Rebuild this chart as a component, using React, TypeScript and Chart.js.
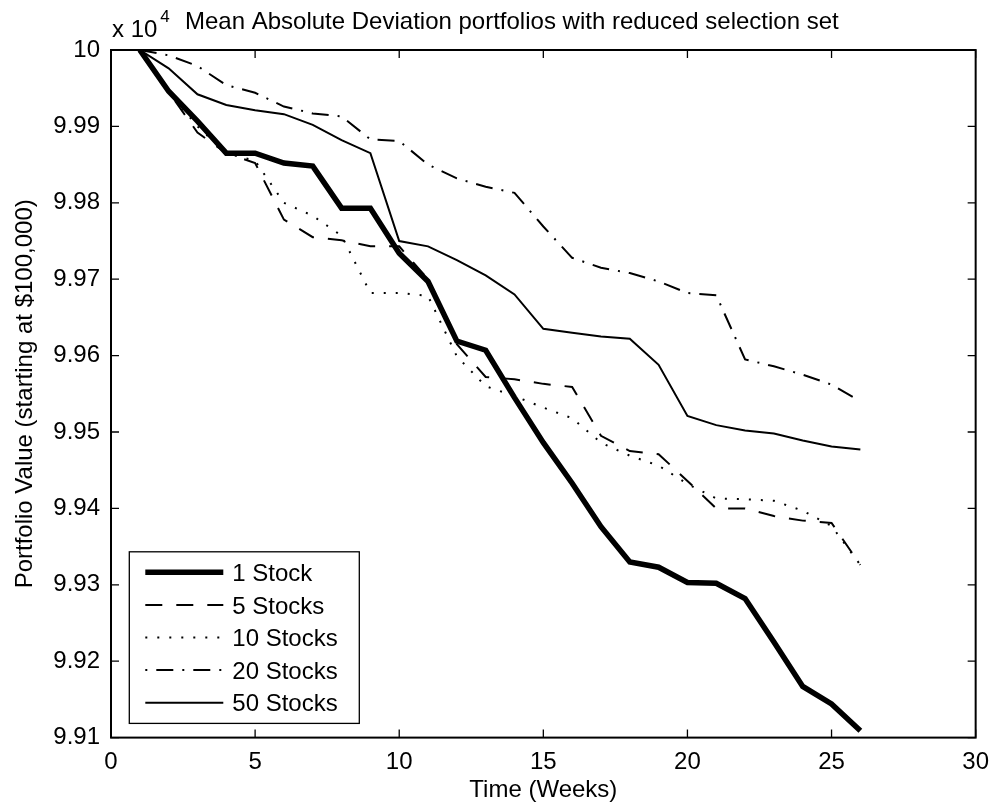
import React, { useEffect, useRef } from "react";
import { Chart, registerables } from "chart.js";

Chart.register(...registerables);

// weeks since start
const weeks = [1, 2, 3, 4, 5, 6, 7, 8, 9, 10, 11, 12, 13, 14, 15, 16, 17, 18, 19, 20, 21, 22, 23, 24, 25, 26];

// portfolio values in dollars
const oneStock = [100000, 99946, 99907, 99865, 99865, 99852, 99848, 99793, 99793, 99734, 99697, 99619, 99607, 99545, 99486, 99433, 99376, 99330, 99323, 99303, 99302, 99282, 99225, 99167, 99144, 99109];
const fiveStocks = [100000, 99945, 99892, 99865, 99852, 99778, 99755, 99751, 99743, 99743, 99700, 99615, 99572, 99569, 99563, 99559, 99495, 99475, 99471, 99436, 99400, 99400, 99390, 99384, 99381, 99326];
const tenStocks = [100000, 99945, 99900, 99865, 99855, 99800, 99783, 99757, 99682, 99682, 99678, 99599, 99560, 99547, 99532, 99518, 99486, 99469, 99456, 99432, 99413, 99412, 99410, 99397, 99377, 99326];
const twentyStocks = [100000, 99993, 99979, 99954, 99944, 99926, 99917, 99913, 99883, 99881, 99850, 99832, 99821, 99813, 99769, 99728, 99715, 99708, 99697, 99682, 99679, 99595, 99586, 99575, 99562, 99540];
const fiftyStocks = [100000, 99976, 99942, 99928, 99921, 99916, 99902, 99882, 99865, 99750, 99743, 99725, 99705, 99680, 99635, 99630, 99625, 99622, 99588, 99521, 99509, 99502, 99498, 99489, 99481, 99477];

const seriesLabels = ["1 Stock", "5 Stocks", "10 Stocks", "20 Stocks", "50 Stocks"];

const xTickValues = [0, 5, 10, 15, 20, 25, 30];
const yTickValues = [99100, 99200, 99300, 99400, 99500, 99600, 99700, 99800, 99900, 100000];
const yTickLabels = ["9.91", "9.92", "9.93", "9.94", "9.95", "9.96", "9.97", "9.98", "9.99", "10"];

const chartTitle = "Mean Absolute Deviation portfolios with reduced selection set";
const exponentBase = "x 10";
const exponent = "4";
const xTitle = "Time (Weeks)";
const yTitle = "Portfolio Value (starting at $100,000)";

const FONT = '"Liberation Sans", Arial, Helvetica, sans-serif';

// MATLAB-like box with inward ticks on all four sides
const framePlugin = {
  id: "frame",
  afterDatasetsDraw: (chart: any) => {
    const { ctx, chartArea: ca, scales } = chart;
    ctx.save();
    ctx.strokeStyle = "#000";
    ctx.lineWidth = 1.3;
    const tl = 8;
    xTickValues.forEach((v) => {
      const x = scales.x.getPixelForValue(v);
      ctx.beginPath();
      ctx.moveTo(x, ca.bottom);
      ctx.lineTo(x, ca.bottom - tl);
      ctx.moveTo(x, ca.top);
      ctx.lineTo(x, ca.top + tl);
      ctx.stroke();
    });
    yTickValues.forEach((v) => {
      const y = scales.y.getPixelForValue(v);
      ctx.beginPath();
      ctx.moveTo(ca.left, y);
      ctx.lineTo(ca.left + tl, y);
      ctx.moveTo(ca.right, y);
      ctx.lineTo(ca.right - tl, y);
      ctx.stroke();
    });
    ctx.lineWidth = 2;
    ctx.strokeRect(ca.left, ca.top, ca.right - ca.left, ca.bottom - ca.top);
    ctx.restore();
  },
};

const titlePlugin = {
  id: "matlabTitle",
  afterDraw: (chart: any) => {
    const { ctx, chartArea: ca } = chart;
    ctx.save();
    ctx.fillStyle = "#000";
    ctx.textBaseline = "alphabetic";
    ctx.textAlign = "left";
    ctx.font = `24px ${FONT}`;
    ctx.fillText(exponentBase, ca.left + 1, 37);
    const w = ctx.measureText(exponentBase).width;
    ctx.font = `17px ${FONT}`;
    ctx.fillText(exponent, ca.left + 1 + w + 3, 22);
    ctx.font = `24px ${FONT}`;
    ctx.fillText(chartTitle, 185, 29);
    ctx.restore();
  },
};

const legendPlugin = {
  id: "boxLegend",
  afterDraw: (chart: any) => {
    const { ctx, chartArea: ca } = chart;
    const sets = chart.data.datasets;
    const w = 230;
    const h = 171.6;
    const left = ca.left + 18.3;
    const top = ca.bottom - 14.2 - h;
    ctx.save();
    ctx.fillStyle = "#fff";
    ctx.fillRect(left, top, w, h);
    ctx.strokeStyle = "#000";
    ctx.lineWidth = 1.3;
    ctx.setLineDash([]);
    ctx.strokeRect(left, top, w, h);
    ctx.font = `24px ${FONT}`;
    ctx.textAlign = "left";
    ctx.textBaseline = "alphabetic";
    sets.forEach((ds: any, i: number) => {
      const cy = top + 20.5 + i * 32.6;
      ctx.beginPath();
      ctx.lineWidth = ds.borderWidth;
      ctx.lineCap = "butt";
      ctx.setLineDash(ds.borderDash || []);
      ctx.lineDashOffset = ds.legendDashOffset || 0;
      ctx.moveTo(left + 16, cy);
      ctx.lineTo(left + 94, cy);
      ctx.stroke();
      ctx.setLineDash([]);
      ctx.fillStyle = "#000";
      ctx.fillText(ds.label, left + 103, cy + 8.6);
    });
    ctx.restore();
  },
};

const toPoints = (values: number[]) => values.map((v, i) => ({ x: weeks[i], y: v }));

const App: React.FC = () => {
  const canvasRef = useRef<HTMLCanvasElement | null>(null);
  const chartRef = useRef<Chart | null>(null);

  useEffect(() => {
    document.body.style.margin = "0";
    if (chartRef.current) chartRef.current.destroy();
    const ctx = canvasRef.current?.getContext("2d");
    if (!ctx) return;

    const base = {
      borderColor: "#000",
      backgroundColor: "#000",
      pointRadius: 0,
      fill: false,
      tension: 0,
      borderCapStyle: "butt",
    };

    chartRef.current = new Chart(ctx, {
      type: "line",
      data: {
        datasets: [
          { ...base, label: seriesLabels[0], data: toPoints(oneStock), borderWidth: 5.5 },
          { ...base, label: seriesLabels[1], data: toPoints(fiveStocks), borderWidth: 2, borderDash: [17, 14] },
          { ...base, label: seriesLabels[2], data: toPoints(tenStocks), borderWidth: 2, borderDash: [2, 10] },
          { ...base, label: seriesLabels[3], data: toPoints(twentyStocks), borderWidth: 2, borderDash: [17, 9, 2, 9], legendDashOffset: 26 },
          { ...base, label: seriesLabels[4], data: toPoints(fiftyStocks), borderWidth: 2 },
        ] as any,
      },
      options: {
        responsive: false,
        animation: false,
        layout: { padding: { left: 0, top: 50, right: 17, bottom: 0 } },
        plugins: {
          legend: { display: false },
          tooltip: { enabled: false },
          title: { display: false },
        },
        scales: {
          x: {
            type: "linear",
            min: 0,
            max: 30,
            afterFit: (scale: any) => {
              scale.height = 70.4;
            },
            afterBuildTicks: (scale: any) => {
              scale.ticks = xTickValues.map((v) => ({ value: v }));
            },
            ticks: {
              color: "#000",
              font: { family: FONT, size: 24 },
              padding: 10,
              maxRotation: 0,
            },
            grid: { display: false, drawTicks: false },
            border: { display: false },
            title: {
              display: true,
              text: xTitle,
              color: "#000",
              font: { family: FONT, size: 24 },
              padding: { top: 0, bottom: 3.6 },
            },
          },
          y: {
            type: "linear",
            min: 99100,
            max: 100000,
            afterFit: (scale: any) => {
              scale.width = 111;
            },
            afterBuildTicks: (scale: any) => {
              scale.ticks = yTickValues.map((v) => ({ value: v }));
            },
            ticks: {
              color: "#000",
              font: { family: FONT, size: 24 },
              padding: 11,
              callback: (value: any) => yTickLabels[yTickValues.indexOf(Number(value))] ?? "",
            },
            grid: { display: false, drawTicks: false },
            border: { display: false },
            title: {
              display: true,
              text: yTitle,
              color: "#000",
              font: { family: FONT, size: 24 },
              padding: { top: 10.6, bottom: 0 },
            },
          },
        },
      },
      plugins: [framePlugin, titlePlugin, legendPlugin],
    } as any);

    return () => {
      if (chartRef.current) {
        chartRef.current.destroy();
        chartRef.current = null;
      }
    };
  }, []);

  return (
    <div style={{ width: 999, height: 808, background: "#fff" }}>
      <canvas ref={canvasRef} width={999} height={808} style={{ display: "block" }}></canvas>
    </div>
  );
};

export default App;
